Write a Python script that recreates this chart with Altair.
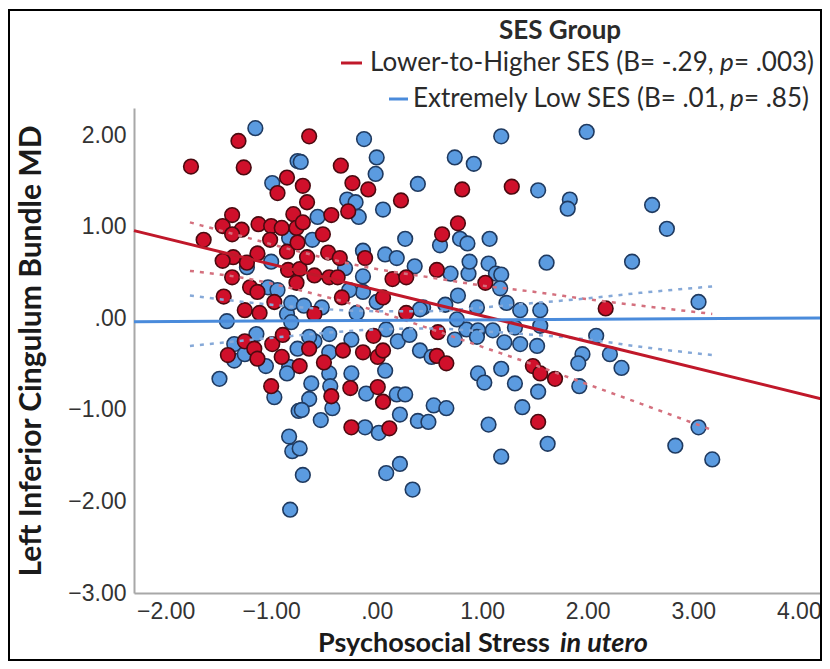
import altair as alt
import pandas as pd

# ---------------- data ----------------
red_x = [-1.76, -1.31, -1.26, -0.64, -0.85, -0.94, -0.70, -1.37, -1.46, -1.28,
         -1.37, -1.64, -1.12, -1.00, -0.90, -0.79, -0.76, -1.01, -0.85, -0.75,
         -1.13, -1.36, -1.46, -1.23, -0.84, -0.73, -1.37, -1.20, -1.13, -0.76,
         -1.45, -0.97, -1.25, -1.11, -0.66, -0.70, -0.51, -0.66, -0.46, -0.35,
         -0.11, -0.59, -0.45, -0.37, 0.15, 0.28, -0.33, 0.06, 0.28, -0.59,
         -0.34, -0.23, -0.08, -0.27, -0.43, 0.23, 0.81, 0.77, 0.62, 0.57,
         -1.25, -1.41, -1.16, -1.13, -0.99, -0.89, -0.90, -0.73, -1.00, -0.64,
         -0.50, -0.32, -0.13, -0.03, 0.01, 0.06, 0.58, 0.57, 0.66, -0.43,
         -0.25, 0.01, 0.06, -0.24, 0.12, 1.28, 1.03, 2.17, 1.48, 1.55,
         1.69, 1.53]
red_y = [1.66, 1.94, 1.65, 1.99, 1.54, 1.37, 1.45, 1.13, 1.01, 0.97,
         0.92, 0.86, 1.03, 1.01, 0.99, 1.14, 0.99, 0.86, 0.73, 0.83,
         0.71, 0.67, 0.63, 0.61, 0.53, 0.54, 0.45, 0.34, 0.29, 0.39,
         0.24, 0.18, 0.09, 0.06, 1.27, 1.05, 0.92, 0.67, 0.72, 0.66,
         0.66, 0.47, 0.45, 0.45, 0.43, 0.45, 0.23, 0.23, 0.06, 0.05,
         1.67, 1.48, 1.41, 1.17, 1.13, 1.29, 1.41, 1.04, 0.92, 0.53,
         -0.25, -0.40, -0.33, -0.44, -0.28, -0.18, -0.42, -0.52, -0.74, -0.33,
         -0.48, -0.35, -0.37, -0.19, -0.42, -0.35, -0.15, -0.41, -0.49, -0.85,
         -0.76, -0.75, -0.91, -1.19, -1.20, 1.44, 0.39, 0.11, -0.52, -0.60,
         -0.66, -1.13]

blue_x = [-1.15, -0.75, -0.99, -1.23, -1.00, -1.03, -0.94, -0.85, -0.81, -1.42,
          -0.83, -0.12, 0.00, -0.01, -0.28, -0.20, -0.17, -0.56, 0.06, 0.39,
          0.74, 0.92, 0.79, 0.86, 0.60, 0.27, -0.61, -0.13, 0.08, 0.19,
          0.36, 0.70, 0.87, 0.88, -0.30, -0.13, -0.13, -0.26, 0.00, 0.77,
          0.44, 0.65, 0.95, -0.69, -0.52, -0.19, 0.41, -0.72, -0.81, -1.14,
          -1.35, -1.35, -1.25, -1.05, -0.83, -0.85, -0.75, -1.49, -0.97, -0.74,
          -0.83, -0.80, -0.73, -0.70, -0.82, -0.59, -0.45, -0.24, -0.64, -0.45,
          0.09, 0.20, 0.31, 0.41, 0.52, 0.74, 0.85, 0.96, -0.45, -0.24,
          0.08, -0.62, -0.44, -0.64, -0.42, -0.71, -0.10, 0.19, 0.27, 0.22,
          0.54, 0.66, 0.39, 0.49, -0.53, -0.11, 0.02, 0.09, 0.22, 0.34,
          1.18, 1.99, 1.53, 1.83, 1.81, 1.07, 1.61, 2.42, 2.61, 2.75,
          1.06, 1.13, 1.18, 1.17, 1.23, 1.36, 1.55, 1.55, 1.31, 1.10,
          0.96, 0.95, 1.21, 1.36, 1.52, 2.08, 1.95, 2.21, 1.91, 2.32,
          1.02, 1.18, 1.31, 1.53, 1.92, 1.38, 1.06, 1.62, 1.18, 3.05,
          0.76, 3.05, 2.83, 3.18]
blue_y = [2.08, 1.72, 1.48, 0.56, 0.62, 0.34, 0.31, 0.05, 0.17, -0.03,
          0.88, 1.96, 1.76, 1.58, 1.30, 1.27, 1.11, 1.11, 1.19, 1.47,
          1.76, 1.69, 0.87, 0.82, 0.80, 0.87, 0.86, 0.74, 0.70, 0.66,
          0.57, 0.49, 0.49, 0.62, 0.55, 0.46, 0.29, 0.31, 0.18, 0.25,
          0.12, 0.15, 0.12, 0.14, 0.12, 0.06, 0.10, 1.71, -0.04, -0.17,
          -0.28, -0.46, -0.39, -0.52, -0.53, -0.60, -0.33, -0.66, -0.86, -1.01,
          -1.29, -1.45, -1.42, -1.71, -2.09, -0.25, -0.17, -0.23, -0.20, -0.37,
          -0.12, -0.25, -0.18, -0.35, -0.42, -0.23, -0.12, -0.60, -0.60, -0.60,
          -0.57, -0.71, -0.74, -0.88, -0.98, -1.00, -0.82, -0.83, -0.83, -1.05,
          -0.95, -0.98, -1.12, -1.13, -1.11, -1.19, -1.25, -1.69, -1.59, -1.87,
          1.99, 2.04, 1.40, 1.30, 1.20, 0.87, 0.61, 0.62, 1.24, 0.98,
          0.60, 0.49, 0.48, 0.33, 0.17, 0.09, 0.09, -0.08, -0.10, -0.13,
          -0.13, -0.20, -0.26, -0.28, -0.30, -0.19, -0.39, -0.39, -0.49, -0.54,
          -0.70, -0.55, -0.71, -0.80, -0.74, -0.97, -1.16, -1.37, -1.51, 0.18,
          -0.01, -1.19, -1.39, -1.54]

# fit lines (end points over the whole axis)
fit_x = [-2.30, 4.22]
red_fit_y = [0.96, -0.88]
blue_fit_y = [-0.035, 0.005]

# 95% confidence bands (dotted), read at several x positions
ci_x = [-1.77, -1.25, -0.70, 0.00, 0.50, 1.00, 1.50, 2.00, 2.50, 3.18]
red_ci_upper = [1.05, 0.89, 0.72, 0.54, 0.45, 0.36, 0.29, 0.21, 0.14, 0.05]
red_ci_lower = [0.52, 0.44, 0.30, 0.08, -0.11, -0.31, -0.51, -0.72, -0.93, -1.22]
blue_ci_upper = [0.25, 0.18, 0.12, 0.08, 0.08, 0.12, 0.17, 0.22, 0.28, 0.35]
blue_ci_lower = [-0.30, -0.24, -0.18, -0.12, -0.11, -0.14, -0.18, -0.23, -0.31, -0.40]

x_ticks = [-2, -1, 0, 1, 2, 3, 4]
y_ticks = [-3, -2, -1, 0, 1, 2]
x_domain = [-2.30, 4.22]
y_domain = [-3.0, 2.3]

legend_title = "SES Group"
legend_red = ["Lower-to-Higher SES (B= -.29,", "p", "= .003)"]
legend_blue = ["Extremely Low SES (B= .01,", "p", "= .85)"]
x_title = ["Psychosocial Stress", "in utero"]
y_title = "Left Inferior Cingulum Bundle MD"

# ---------------- styling ----------------
RED_FILL = "#D0102B"
RED_EDGE = "#4A0A10"
BLUE_FILL = "#5B9BE0"
BLUE_EDGE = "#1F3A60"
RED_LINE = "#C0182A"
BLUE_LINE = "#4A8BDB"
RED_CI = "#D4707E"
BLUE_CI = "#86A9D8"

W, H = 688, 485
label_expr = "datum.value == 0 ? '.00' : format(datum.value, '.2f')"

xs = alt.Scale(domain=x_domain, nice=False, zero=False)
ys = alt.Scale(domain=y_domain, nice=False, zero=False)

x_axis = alt.Axis(values=x_ticks, labelExpr=label_expr, title=None, ticks=False,
                  grid=False, domainColor="#a8a8a8", domainWidth=2,
                  labelFont="Liberation Sans", labelFontSize=23, labelColor="#333333",
                  labelPadding=7, labelFlush=False)
y_axis = alt.Axis(values=y_ticks, labelExpr=label_expr, title=y_title, ticks=False,
                  grid=False, domainColor="#a8a8a8", domainWidth=2,
                  labelFont="Liberation Sans", labelFontSize=23, labelColor="#333333",
                  labelPadding=8, labelFlush=False,
                  titleFont="Lato", titleFontSize=30, titleFontWeight="bold",
                  titleColor="#1a1a1a", titleX=-103, titleY=H / 2,
                  titleAngle=270, titleAlign="center", titleBaseline="middle")


def X(field):
    return alt.X(field, type="quantitative", scale=xs, axis=x_axis)


def Y(field):
    return alt.Y(field, type="quantitative", scale=ys, axis=y_axis)


blue_df = pd.DataFrame({"x": blue_x, "y": blue_y})
red_df = pd.DataFrame({"x": red_x, "y": red_y})
fit_df = pd.DataFrame({"x": fit_x, "red": red_fit_y, "blue": blue_fit_y})
ci_df = pd.DataFrame({"x": ci_x, "ru": red_ci_upper, "rl": red_ci_lower,
                      "bu": blue_ci_upper, "bl": blue_ci_lower})

blue_pts = alt.Chart(blue_df).mark_circle(
    size=215, opacity=1, fill=BLUE_FILL, stroke=BLUE_EDGE, strokeWidth=1.6
).encode(x=X("x"), y=Y("y"))
red_pts = alt.Chart(red_df).mark_circle(
    size=215, opacity=1, fill=RED_FILL, stroke=RED_EDGE, strokeWidth=1.6
).encode(x=X("x"), y=Y("y"))


def ci_line(col, color):
    return alt.Chart(ci_df).mark_line(
        color=color, strokeWidth=2.5, strokeDash=[4, 6], interpolate="monotone"
    ).encode(x=X("x"), y=Y(col))


ci_layers = [ci_line("ru", RED_CI), ci_line("rl", RED_CI),
             ci_line("bu", BLUE_CI), ci_line("bl", BLUE_CI)]

red_fit = alt.Chart(fit_df).mark_line(color=RED_LINE, strokeWidth=3).encode(x=X("x"), y=Y("red"))
blue_fit = alt.Chart(fit_df).mark_line(color=BLUE_LINE, strokeWidth=3).encode(x=X("x"), y=Y("blue"))

one = pd.DataFrame({"a": [0]})

# plot origin on the page is (134, 108); positions below are relative to it
def txt(s, px, py, size=26, weight="normal", style="normal", align="left",
        font="Lato", color="#2a2a2a"):
    return alt.Chart(one).mark_text(
        text=s, align=align, baseline="middle", font=font, fontSize=size,
        fontWeight=weight, fontStyle=style, color=color
    ).encode(x=alt.value(px), y=alt.value(py))


def sym(x1, x2, py, color):
    return alt.Chart(one).mark_rule(color=color, strokeWidth=3).encode(
        x=alt.value(x1), x2=alt.value(x2), y=alt.value(py))


legend_layers = [
    txt(legend_title, 426, -77, weight="bold", align="center"),
    sym(207, 228, -45, RED_LINE),
    txt(legend_red[0], 236, -45),
    txt(legend_red[1], 586, -45, style="italic"),
    txt(legend_red[2], 600, -45),
    sym(255, 274, -9, BLUE_LINE),
    txt(legend_blue[0], 279, -9),
    txt(legend_blue[1], 596, -9, style="italic"),
    txt(legend_blue[2], 610, -9),
]

title_layers = [
    txt(x_title[0], 416, 536, size=27, weight="bold", align="right", color="#1a1a1a"),
    txt(x_title[1], 426, 536, size=27, weight="bold", style="italic", color="#1a1a1a"),
]

border = alt.Chart(one).mark_rect(fillOpacity=0, stroke="#000000", strokeWidth=2).encode(
    x=alt.value(-125), x2=alt.value(687), y=alt.value(-98), y2=alt.value(552))

chart = alt.layer(
    blue_pts, red_pts, *ci_layers, red_fit, blue_fit,
    *legend_layers, *title_layers, border
).properties(
    width=W, height=H,
    autosize=alt.AutoSizeParams(type="none"),
    padding={"left": 126, "top": 100, "right": 0, "bottom": 68},
    background="#ffffff",
).configure_view(stroke="transparent")

chart.save("out.html", embed_options={"renderer": "svg", "actions": False})
